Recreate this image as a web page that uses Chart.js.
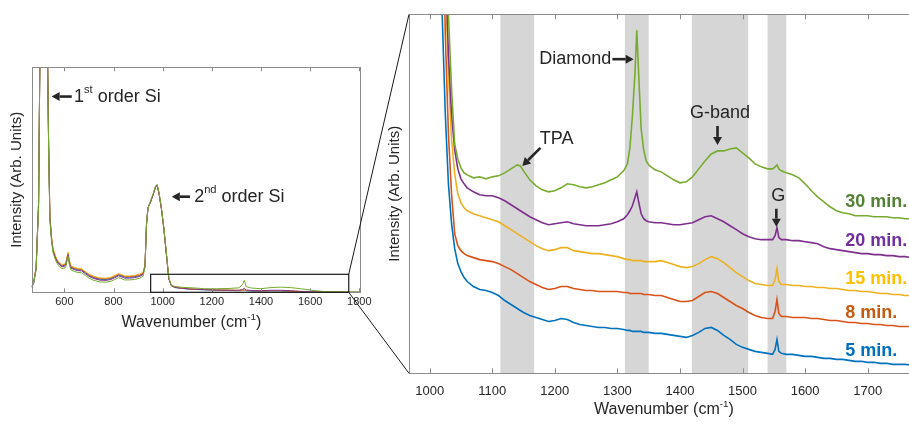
<!DOCTYPE html>
<html>
<head>
<meta charset="utf-8">
<script src="https://cdn.jsdelivr.net/npm/chart.js@4.4.0/dist/chart.umd.min.js"></script>
<style>
  html, body { margin: 0; padding: 0; background: #fff; overflow: hidden; }
  #wrap { position: relative; width: 909px; height: 424px; }
  canvas { position: absolute; left: 0; top: 0; }
</style>
</head>
<body>
<div id="wrap">
  <canvas id="overview" width="909" height="424"></canvas>
  <canvas id="zoomed" width="909" height="424"></canvas>
</div>
<script>
// ---- overview spectrum (left panel) ----
const ovTicks = [600, 800, 1000, 1200, 1400, 1600, 1800];
const ovWn = [467, 475, 485, 495, 500, 505, 512, 520, 528, 532, 536, 541, 548, 554, 565, 575, 590, 605, 611, 615,
  619, 626, 640, 655, 670, 685, 700, 720, 745, 770, 790, 805, 820, 830, 845, 865, 885, 905, 920, 928,
  934, 940, 950, 960, 970, 977, 985, 995, 1005, 1015, 1025, 1035, 1050, 1080, 1120, 1170, 1220, 1270, 1310, 1325,
  1332, 1340, 1360, 1400, 1440, 1480, 1520, 1560, 1600, 1650, 1700, 1750, 1800];
const ovBlue = [2.3, 4.3, 10.8, 40, 100, 200, 400, 500, 200, 100,
  64, 33.5, 23.7, 18.7, 15.2, 13.2, 11.7, 12.2, 15.2, 17.2,
  14.2, 11.2, 10.5, 10, 9.9, 8.7, 7.5, 6.5, 5.8, 5.7,
  6.1, 6.9, 7.7, 7.4, 6.7, 6.7, 6.9, 7.4, 8.3, 11.8,
  30, 37.5, 40, 43, 46.5, 47.7, 44, 37, 28, 17,
  6, 3, 2.1, 1.7, 1.3, 1.1, 0.9, 0.8, 0.7, 0.8,
  1.0, 0.7, 0.6, 0.5, 0.6, 0.6, 0.4, 0.2, 0.1, 0.1,
  0.05, 0, 0];
const ovOrange = [2.5, 4.5, 11, 40, 100, 200, 400, 500, 200, 100,
  65, 34, 24, 19, 15.5, 13.5, 12, 12.5, 15.5, 17.5,
  14.5, 11.5, 10.8, 10.3, 10.2, 9, 7.8, 6.8, 6.1, 6,
  6.4, 7.2, 8, 7.7, 7, 7, 7.2, 7.7, 8.6, 12,
  30, 37.5, 40, 43, 46.5, 47.7, 44, 37, 28, 17,
  6, 3, 2.2, 1.8, 1.4, 1.2, 1.0, 0.9, 0.8, 0.9,
  1.2, 0.8, 0.7, 0.6, 0.7, 0.7, 0.5, 0.3, 0.2, 0.1,
  0.1, 0.05, 0];
const ovYellow = [2.6, 4.6, 11.2, 40, 100, 200, 400, 500, 200, 100,
  66, 35, 24.5, 19.4, 15.8, 13.8, 12.3, 12.8, 15.8, 17.8,
  14.8, 11.8, 11.1, 10.6, 10.5, 9.3, 8.1, 7.1, 6.4, 6.3,
  6.7, 7.5, 8.3, 8, 7.3, 7.3, 7.5, 8, 8.9, 12.2,
  30, 37.5, 40, 43, 46.5, 47.7, 44, 37, 28, 17,
  6, 3, 2.3, 1.9, 1.5, 1.3, 1.1, 1.0, 0.9, 1.0,
  1.1, 0.9, 0.8, 0.7, 0.8, 0.8, 0.6, 0.4, 0.2, 0.1,
  0.1, 0.05, 0];
const ovPurple = [2.4, 4.3, 10.5, 39, 100, 200, 400, 500, 200, 100,
  64, 33, 23.3, 18.3, 14.8, 12.8, 11.3, 11.8, 14.8, 16.8,
  13.8, 10.8, 10.1, 9.6, 9.5, 8.3, 7.1, 6.1, 5.4, 5.3,
  5.7, 6.5, 7.3, 7, 6.3, 6.3, 6.5, 7, 7.9, 11.5,
  30, 37.5, 40, 43, 46.5, 47.7, 44, 37, 28, 17,
  6, 3, 2.2, 1.8, 1.4, 1.2, 1.0, 0.9, 0.9, 1.2,
  1.8, 1.0, 0.8, 0.7, 0.9, 0.9, 0.7, 0.4, 0.2, 0.1,
  0.1, 0.05, 0];
const ovGreen = [2.2, 4, 10, 38, 100, 200, 400, 500, 200, 100,
  62, 32, 22.5, 17.5, 14, 12, 10.5, 11, 14, 16,
  13, 10, 9.3, 8.8, 8.7, 7.5, 6.3, 5.3, 4.6, 4.5,
  4.9, 5.7, 6.5, 6.2, 5.5, 5.5, 5.7, 6.2, 7.1, 11,
  30, 37.5, 40.5, 43.5, 47, 48, 44.5, 37.5, 28.5, 17.5,
  6.5, 3.2, 2.6, 2.2, 2.0, 1.6, 1.6, 1.7, 2.0, 3.5,
  5.3, 2.5, 1.9, 1.6, 2.1, 2.3, 2.1, 1.6, 1.0, 0.4,
  0.2, 0.1, 0.1];
const insetWn = [951, 1757];
const insetTop = 8;

// ---- zoomed, offset spectra (right panel) ----
const zoomTicks = [1000, 1100, 1200, 1300, 1400, 1500, 1600, 1700];
const bands = [[1113, 1167], [1312, 1350], [1419, 1509], [1540, 1570]];
const zoomWn = [1000, 1010, 1020, 1025, 1030, 1035, 1040, 1045, 1050, 1055, 1060,
  1070, 1080, 1090, 1100, 1110, 1120, 1130, 1140,
  1145, 1150,
  1160, 1170, 1180, 1190, 1200, 1210, 1220, 1230, 1240, 1250, 1260, 1270, 1280, 1290, 1300, 1310,
  1316, 1320, 1324, 1328, 1331, 1334, 1338, 1342, 1346,
  1350, 1360, 1370, 1380, 1390, 1400, 1410, 1420, 1430, 1440, 1450, 1460, 1470, 1480, 1490, 1500, 1510, 1520, 1530, 1540,
  1548, 1552, 1555, 1558, 1562,
  1570, 1580, 1590, 1600, 1610, 1620, 1630, 1640, 1650, 1660, 1670, 1680, 1690, 1700, 1710, 1720, 1730, 1740, 1750, 1760, 1770];
const min30 = [900, 800, 650, 480, 360, 285, 230, 215, 206, 201, 199,
  196, 197, 195, 197, 198, 201, 205, 209,
  208, 203,
  194, 188, 184, 182, 183, 186, 190, 189, 187, 186, 187, 189, 191, 194, 197, 203,
  210, 226, 258, 300, 344, 300, 245, 224, 213,
  209, 204, 202, 198, 194, 191, 192, 197, 205, 213, 220, 223, 223, 225, 226, 221, 216, 210, 207, 205,
  205, 207, 209, 205, 203,
  201, 199, 196, 190, 183, 177, 172, 167, 163, 161, 160, 158, 158, 158, 157, 157, 157, 156, 156, 155, 155];
const min20 = [900, 800, 600, 420, 320, 260, 224, 205, 195, 190, 186,
  182, 179, 178, 178, 176, 173, 169, 165,
  163, 161,
  157, 154, 151, 149, 150, 151, 152, 150, 149, 148, 148, 148, 149, 150, 152, 155,
  159, 163, 168, 176, 182, 172, 160, 155, 153,
  152, 151, 151, 150, 149, 149, 150, 151, 154, 157, 158, 155, 152, 148, 144, 140, 137, 135, 134, 134,
  134, 138, 146, 136, 134,
  134, 133, 133, 132, 131, 130, 127, 125, 124, 123, 122, 121, 120, 120, 119, 119, 118, 118, 117, 117, 116];
const min15 = [900, 800, 560, 400, 300, 235, 200, 180, 171, 166, 163,
  160, 158, 156, 154, 152, 148, 144, 140,
  138, 136,
  132, 128, 125, 123, 124, 126, 126, 123, 122, 121, 120, 120, 119, 118, 117, 115,
  114, 114, 113, 113, 113, 113, 113, 112, 112,
  112, 112, 113, 111, 109, 107, 106, 107, 110, 114, 117, 115, 111, 106, 101, 97, 93, 90, 89, 88,
  88, 94, 105, 92, 89,
  89, 88, 88, 87, 87, 86, 86, 85, 85, 84, 83, 83, 82, 82, 81, 80, 80, 79, 79, 78, 78];
const min8 = [900, 750, 500, 340, 240, 180, 140, 128, 123, 120, 118,
  116, 114, 113, 112, 110, 107, 104, 100,
  98, 96,
  92, 89, 86, 84, 85, 87, 87, 85, 84, 83, 83, 82, 82, 82, 82, 81,
  81, 80, 80, 80, 80, 80, 80, 79, 79,
  79, 78, 78, 76, 74, 72, 72, 73, 77, 81, 82, 80, 76, 72, 68, 65, 61, 58, 56, 55,
  55, 62, 74, 60, 57,
  57, 56, 56, 56, 55, 55, 54, 53, 53, 52, 51, 51, 50, 50, 49, 49, 48, 48, 47, 47, 47];
const min5 = [900, 700, 360, 260, 190, 150, 125, 110, 102, 96, 92,
  87, 84, 83, 81, 78, 73, 69, 65,
  63, 61,
  58, 56, 54, 52, 53, 55, 54, 51, 49, 48, 47, 46, 46, 45, 45, 44,
  43, 43, 42, 42, 42, 42, 42, 41, 41,
  41, 40, 40, 39, 38, 37, 36, 38, 41, 45, 46, 43, 38, 34, 29, 26, 24, 22, 21, 20,
  19, 24, 34, 22, 20,
  19, 19, 18, 17, 17, 16, 15, 15, 14, 14, 13, 12, 12, 11, 11, 10, 10, 9, 9, 9, 8];
const seriesNames = ['30 min.', '20 min.', '15 min.', '8 min.', '5 min.'];
const labelLevels = [172, 133, 95, 60, 22];

const FONT = "'Liberation Sans', Arial, Helvetica, sans-serif";
const INK = '#262626';
const BOX = '#8c8c8c';
const lineColors = ['#77AC30', '#7E2F8E', '#EDB120', '#D95319', '#0072BD'];
const labelColors = ['#548235', '#7030A0', '#FFC000', '#C55A11', '#0070C0'];

function pts(xs, ys) {
    return xs.map((x, i) => ({ x: x, y: ys[i] }));
}

function arrow(ctx, x1, y1, x2, y2) {
    const ang = Math.atan2(y2 - y1, x2 - x1);
    const head = 8, half = 4.5;
    const bx = x2 - head * Math.cos(ang), by = y2 - head * Math.sin(ang);
    ctx.save();
    ctx.strokeStyle = INK;
    ctx.fillStyle = INK;
    ctx.lineWidth = 2.6;
    ctx.beginPath();
    ctx.moveTo(x1, y1);
    ctx.lineTo(bx, by);
    ctx.stroke();
    ctx.beginPath();
    ctx.moveTo(x2, y2);
    ctx.lineTo(bx + half * Math.sin(ang), by - half * Math.cos(ang));
    ctx.lineTo(bx - half * Math.sin(ang), by + half * Math.cos(ang));
    ctx.closePath();
    ctx.fill();
    ctx.restore();
}

// parts: [[text, isSuperscript], ...]
function richText(ctx, parts, x, y, size, align, color) {
    ctx.save();
    ctx.textBaseline = 'middle';
    ctx.textAlign = 'left';
    ctx.fillStyle = color || INK;
    let w = 0;
    parts.forEach(([t, sup]) => {
        ctx.font = (sup ? size * 0.62 : size) + 'px ' + FONT;
        w += ctx.measureText(t).width;
    });
    let cx = align === 'center' ? x - w / 2 : align === 'right' ? x - w : x;
    parts.forEach(([t, sup]) => {
        ctx.font = (sup ? size * 0.62 : size) + 'px ' + FONT;
        ctx.fillText(t, cx, sup ? y - size * 0.36 : y);
        cx += ctx.measureText(t).width;
    });
    ctx.restore();
}

function verticalTitle(ctx, text, x, y, size) {
    ctx.save();
    ctx.translate(x, y);
    ctx.rotate(-Math.PI / 2);
    ctx.font = size + 'px ' + FONT;
    ctx.fillStyle = INK;
    ctx.textAlign = 'center';
    ctx.textBaseline = 'middle';
    ctx.fillText(text, 0, 0);
    ctx.restore();
}

function frameTicks(ctx, scale, area, ticks, len) {
    ctx.save();
    ctx.strokeStyle = BOX;
    ctx.lineWidth = 1;
    ctx.beginPath();
    ticks.forEach(v => {
        const px = Math.round(scale.getPixelForValue(v)) + 0.5;
        ctx.moveTo(px, area.bottom);
        ctx.lineTo(px, area.bottom - len);
        ctx.moveTo(px, area.top);
        ctx.lineTo(px, area.top + len);
    });
    ctx.stroke();
    ctx.restore();
}

const overviewDecor = {
    id: 'overviewDecor',
    afterDraw(chart) {
        const { ctx, chartArea: a, scales: { x, y } } = chart;
        ctx.save();
        ctx.strokeStyle = BOX;
        ctx.lineWidth = 1;
        ctx.strokeRect(Math.round(a.left) + 0.5, Math.round(a.top) + 0.5, Math.round(a.width), Math.round(a.height));
        ctx.restore();
        frameTicks(ctx, x, a, ovTicks, 4);

        // inset rectangle marking the zoomed range
        ctx.save();
        ctx.strokeStyle = '#1a1a1a';
        ctx.lineWidth = 1.2;
        const x0 = x.getPixelForValue(insetWn[0]), x1 = x.getPixelForValue(insetWn[1]);
        const y0 = y.getPixelForValue(insetTop), y1 = y.getPixelForValue(0);
        ctx.strokeRect(x0, y0, x1 - x0, y1 - y0);
        ctx.restore();

        arrow(ctx, x.getPixelForValue(630), y.getPixelForValue(87), x.getPixelForValue(548), y.getPixelForValue(87));
        richText(ctx, [['1'], ['st', true], [' order Si']], x.getPixelForValue(639), y.getPixelForValue(87), 18, 'left');
        arrow(ctx, x.getPixelForValue(1111), y.getPixelForValue(42.5), x.getPixelForValue(1037), y.getPixelForValue(42.5));
        richText(ctx, [['2'], ['nd', true], [' order Si']], x.getPixelForValue(1128), y.getPixelForValue(42.5), 18, 'left');

        richText(ctx, [['Wavenumber (cm'], ['-1', true], [')']], (a.left + a.right) / 2 - 4, 323, 16, 'center');
        verticalTitle(ctx, 'Intensity (Arb. Units)', 17, (a.top + a.bottom) / 2, 15);
    }
};

const zoomDecor = {
    id: 'zoomDecor',
    beforeDatasetsDraw(chart) {
        const { ctx, chartArea: a, scales: { x } } = chart;
        ctx.save();
        ctx.fillStyle = '#d6d6d6';
        bands.forEach(([lo, hi]) => {
            const l = x.getPixelForValue(lo), r = x.getPixelForValue(hi);
            ctx.fillRect(l, a.top, r - l, a.bottom - a.top);
        });
        ctx.restore();
    },
    afterDraw(chart) {
        const { ctx, chartArea: a, scales: { x, y } } = chart;
        const X = v => x.getPixelForValue(v), Y = v => y.getPixelForValue(v);

        ctx.save();
        ctx.strokeStyle = BOX;
        ctx.lineWidth = 1;
        ctx.beginPath();
        ctx.moveTo(a.right, Math.round(a.top) + 0.5);
        ctx.lineTo(Math.round(a.left) + 0.5, Math.round(a.top) + 0.5);
        ctx.lineTo(Math.round(a.left) + 0.5, Math.round(a.bottom) + 0.5);
        ctx.lineTo(a.right, Math.round(a.bottom) + 0.5);
        ctx.stroke();
        ctx.restore();
        frameTicks(ctx, x, a, zoomTicks, 5);

        // peak annotations
        arrow(ctx, X(1292), Y(315), X(1326), Y(315));
        richText(ctx, [['Diamond']], X(1292) - 1, Y(315), 18, 'right');
        arrow(ctx, X(1177), Y(226), X(1148), Y(208));
        richText(ctx, [['TPA']], X(1176), Y(235), 18, 'left');
        richText(ctx, [['G-band']], X(1464), Y(261), 18, 'center');
        arrow(ctx, X(1460), Y(248), X(1460), Y(229));
        richText(ctx, [['G']], X(1557), Y(178), 18, 'center');
        arrow(ctx, X(1554), Y(165), X(1554), Y(147));

        // deposition time labels
        seriesNames.forEach((name, i) => {
            ctx.save();
            ctx.font = 'bold 18px ' + FONT;
            ctx.fillStyle = labelColors[i];
            ctx.textAlign = 'left';
            ctx.textBaseline = 'middle';
            ctx.fillText(name, X(1664), Y(labelLevels[i]));
            ctx.restore();
        });

        richText(ctx, [['Wavenumber (cm'], ['-1', true], [')']], 664, 410, 16, 'center');
        verticalTitle(ctx, 'Intensity (Arb. Units)', 395, (a.top + a.bottom) / 2, 15);

        // connector lines from the inset box to the zoomed axes
        const ov = overviewChart;
        const ix = ov.scales.x.getPixelForValue(insetWn[1]);
        const iyTop = ov.scales.y.getPixelForValue(insetTop);
        const iyBot = ov.scales.y.getPixelForValue(0);
        ctx.save();
        ctx.strokeStyle = '#1a1a1a';
        ctx.lineWidth = 1;
        ctx.beginPath();
        ctx.moveTo(ix, iyTop);
        ctx.lineTo(a.left, a.top);
        ctx.moveTo(ix, iyBot);
        ctx.lineTo(a.left, a.bottom);
        ctx.stroke();
        ctx.restore();
    }
};

function lineSet(data, color, width) {
    return { data: data, borderColor: color, borderWidth: width, pointRadius: 0, fill: false, tension: 0 };
}

const plainTick = v => String(v);

const overviewChart = new Chart(document.getElementById('overview'), {
    type: 'line',
    data: {
        datasets: [
            lineSet(pts(ovWn, ovGreen), lineColors[0], 1),
            lineSet(pts(ovWn, ovPurple), lineColors[1], 1),
            lineSet(pts(ovWn, ovYellow), lineColors[2], 1),
            lineSet(pts(ovWn, ovOrange), lineColors[3], 1),
            lineSet(pts(ovWn, ovBlue), lineColors[4], 1)
        ]
    },
    options: {
        responsive: false,
        animation: false,
        events: [],
        layout: { padding: { left: 31.7, right: 549.7, top: 67.3, bottom: 0 } },
        plugins: { legend: { display: false }, tooltip: { enabled: false } },
        scales: {
            x: {
                type: 'linear',
                min: 467,
                max: 1800,
                afterBuildTicks: s => { s.ticks = ovTicks.map(v => ({ value: v })); },
                afterFit: s => { s.height = 424 - 292.3; },
                grid: { display: false, drawTicks: false },
                border: { display: false },
                ticks: { color: INK, font: { family: FONT, size: 11 }, padding: 3, maxRotation: 0, autoSkip: false, callback: plainTick }
            },
            y: { display: false, min: 0, max: 100 }
        }
    },
    plugins: [overviewDecor]
});

const zoomChart = new Chart(document.getElementById('zoomed'), {
    type: 'line',
    data: {
        datasets: [
            lineSet(pts(zoomWn, min30), lineColors[0], 1.6),
            lineSet(pts(zoomWn, min20), lineColors[1], 1.6),
            lineSet(pts(zoomWn, min15), lineColors[2], 1.6),
            lineSet(pts(zoomWn, min8), lineColors[3], 1.6),
            lineSet(pts(zoomWn, min5), lineColors[4], 1.6)
        ]
    },
    options: {
        responsive: false,
        animation: false,
        events: [],
        layout: { padding: { left: 409, right: 0, top: 14.3, bottom: 0 } },
        plugins: { legend: { display: false }, tooltip: { enabled: false } },
        scales: {
            x: {
                type: 'linear',
                min: 967,
                max: 1766,
                afterBuildTicks: s => { s.ticks = zoomTicks.map(v => ({ value: v })); },
                afterFit: s => { s.height = 424 - 373.3; },
                grid: { display: false, drawTicks: false },
                border: { display: false },
                ticks: { color: INK, font: { family: FONT, size: 13 }, padding: 10, maxRotation: 0, autoSkip: false, callback: plainTick }
            },
            y: { display: false, min: 0, max: 360 }
        }
    },
    plugins: [zoomDecor]
});
</script>
</body>
</html>
